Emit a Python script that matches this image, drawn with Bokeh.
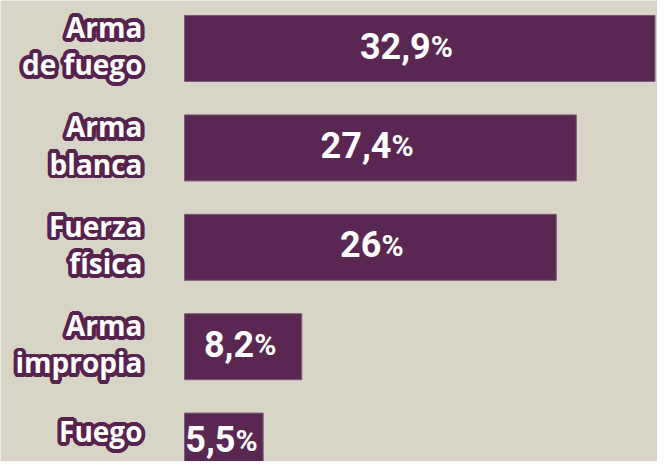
import math
from bokeh.plotting import figure
from bokeh.models import ColumnDataSource, Range1d
from bokeh.embed import file_html
from bokeh.resources import INLINE
from bokeh.core.properties import value

# ---- data ----
categories = ["Arma\nde fuego", "Arma\nblanca", "Fuerza\nfísica", "Arma\nimpropia", "Fuego"]
values = [32.9, 27.4, 26.0, 8.2, 5.5]
value_labels = ["32,9", "27,4", "26", "8,2", "5,5"]

# ---- layout / style ----
W, H = 657, 461
px_per_unit = 14.3
base_px = 184
x_start = -base_px / px_per_unit
x_end = (W - base_px) / px_per_unit
row_px = 99.4
first_px = 48
y_top = -first_px / row_px
y_bottom = (H - first_px) / row_px
label_shift = [-3, -3, -3, -3, -15]   # px, vertical nudge of category labels
value_shift = [-3, -3, -3, -3, -7]    # px, vertical nudge of value labels
min_label_px = 40                      # keep value label inside short bars

BG = "#d8d4c6"
BAR = "#5a2753"
DARK = "#57234e"

idx = list(range(len(values)))
src = ColumnDataSource(dict(
    y=idx, v=values,
    half=[max(v / 2, min_label_px / px_per_unit) for v in values],
    cat=categories, num=value_labels, pct=["%"] * len(values),
    dy=label_shift, vdy=value_shift, pdy=[s + 1 for s in value_shift],
))

p = figure(width=W, height=H, x_range=Range1d(x_start, x_end),
           y_range=Range1d(y_bottom, y_top), output_backend="svg",
           toolbar_location=None, min_border=0)
p.axis.visible = False
p.grid.visible = False
p.outline_line_color = None
p.background_fill_color = BG
p.border_fill_color = BG

p.hbar(y="y", left=0, right="v", height=0.664, source=src,
       fill_color=BAR, line_color="#80587a", line_width=1)

# outlined category labels
label_font = value("Open Sans")
R = 3.8
N = 24
for k in range(N):
    a = 2 * math.pi * k / N
    src.data[f"dy{k}"] = [d + R * math.sin(a) for d in label_shift]
    p.text(x=0, y="y", text="cat", source=src, x_offset=-42 + R * math.cos(a),
           y_offset=f"dy{k}", text_align="right", text_baseline="middle",
           text_font=label_font, text_font_style="bold", text_font_size="28px",
           text_line_height=0.98, text_color=DARK)
p.text(x=0, y="y", text="cat", source=src, x_offset=-42, y_offset="dy",
       text_align="right", text_baseline="middle", text_font=label_font,
       text_font_style="bold", text_font_size="28px", text_line_height=0.98,
       text_color="white")

# value labels
p.text(x="half", y="y", text="num", source=src, x_offset=11, y_offset="vdy",
       text_align="right", text_baseline="middle", text_font=value("Roboto"),
       text_font_style="bold", text_font_size="36px", text_color="white")
p.text(x="half", y="y", text="pct", source=src, x_offset=11, y_offset="pdy",
       text_align="left", text_baseline="middle", text_font=value("Roboto"),
       text_font_style="bold", text_font_size="30px", text_color="white")

open("out.html", "w").write(file_html(p, INLINE))
